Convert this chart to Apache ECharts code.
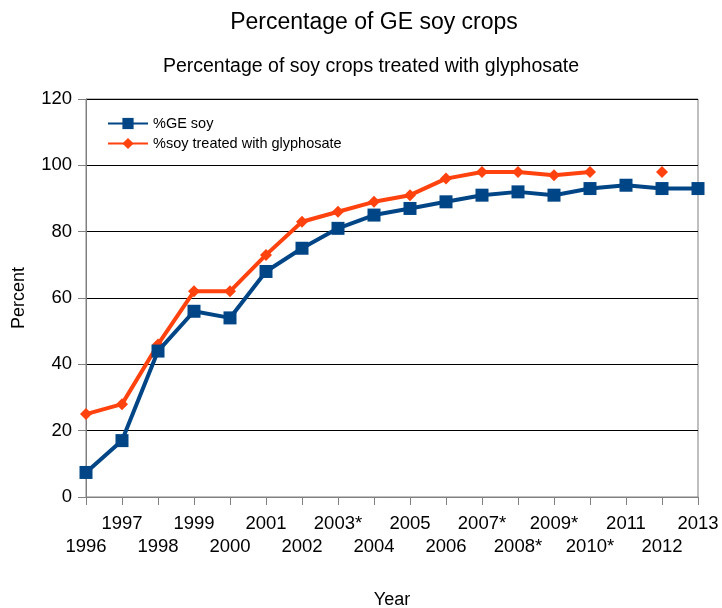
<!DOCTYPE html>
<html><head><meta charset="utf-8">
<script src="https://cdn.jsdelivr.net/npm/echarts@6/dist/echarts.min.js"></script>
<style>html,body{margin:0;padding:0;background:#fff}#c{width:722px;height:608px}</style>
</head><body><div id="c"></div>
<script>
var years = ['1996','1997','1998','1999','2000','2001','2002','2003*','2004','2005','2006','2007*','2008*','2009*','2010*','2011','2012','2013'];
var geSoy = [7.4,17,44,56,54,68,75,81,85,87,89,91,92,91,93,94,93,93];
var glyphosate = [25,28,46,62,62,73,83,86,89,91,96,98,98,97,98,null,98,null];
var yTicks = [0,20,40,60,80,100,120];

var FONT = '"Liberation Sans", Arial, sans-serif';
var chart = echarts.init(document.getElementById('c'));
chart.setOption({
  animation: false,
  backgroundColor: '#fff',
  title: [
    {text: 'Percentage of GE soy crops', left: 369, top: 6, textAlign: 'center',
     textStyle: {fontFamily: FONT, fontSize: 23, fontWeight: 'normal', color: '#000'}},
    {text: 'Percentage of soy crops treated with glyphosate', left: 366, top: 52, textAlign: 'center',
     textStyle: {fontFamily: FONT, fontSize: 19.5, fontWeight: 'normal', color: '#000'}}
  ],
  legend: {
    orient: 'vertical', left: 107, top: 116, itemGap: 5, itemWidth: 40, itemHeight: 14, padding: 0,
    textStyle: {fontFamily: FONT, fontSize: 14.5, color: '#000'},
    data: ['%GE soy', '%soy treated with glyphosate']
  },
  grid: {left: 86, right: 24, top: 99, bottom: 111, show: true, borderColor: '#808080', borderWidth: 1,
         containLabel: false, outerBoundsMode: 'none'},
  xAxis: {
    type: 'category', data: years, boundaryGap: false,
    name: 'Year', nameLocation: 'middle', nameGap: 94,
    nameTextStyle: {fontFamily: FONT, fontSize: 18, color: '#000'},
    axisLine: {lineStyle: {color: '#808080', width: 1}},
    axisTick: {show: true, length: 8, alignWithLabel: true, lineStyle: {color: '#808080'}},
    axisLabel: {
      interval: 0, margin: 15, fontFamily: FONT, fontSize: 18.5, color: '#000', lineHeight: 23,
      formatter: function (v, i) { return i % 2 === 1 ? v : '\n' + v; }
    },
    splitLine: {show: false}
  },
  yAxis: {
    type: 'value', min: 0, max: 120, interval: 20,
    name: 'Percent', nameLocation: 'middle', nameGap: 58, nameRotate: 90,
    nameTextStyle: {fontFamily: FONT, fontSize: 18, color: '#000'},
    axisLine: {show: true, lineStyle: {color: '#808080', width: 1}},
    axisTick: {show: true, length: 8, lineStyle: {color: '#808080'}},
    axisLabel: {margin: 14, fontFamily: FONT, fontSize: 18.5, color: '#000',
      formatter: function (v) { return yTicks.indexOf(v) >= 0 ? String(v) : ''; }},
    splitLine: {show: true, lineStyle: {color: '#000', width: 1}}
  },
  series: [
    {name: '%GE soy', type: 'line', data: geSoy, color: '#004586',
     symbol: 'rect', symbolSize: 13, lineStyle: {width: 4, color: '#004586'},
     itemStyle: {color: '#004586'}, z: 3},
    {name: '%soy treated with glyphosate', type: 'line', data: glyphosate, color: '#ff420e',
     symbol: 'diamond', symbolSize: 12, lineStyle: {width: 4, color: '#ff420e'},
     itemStyle: {color: '#ff420e'}, connectNulls: false, z: 2}
  ]
});
</script></body></html>
